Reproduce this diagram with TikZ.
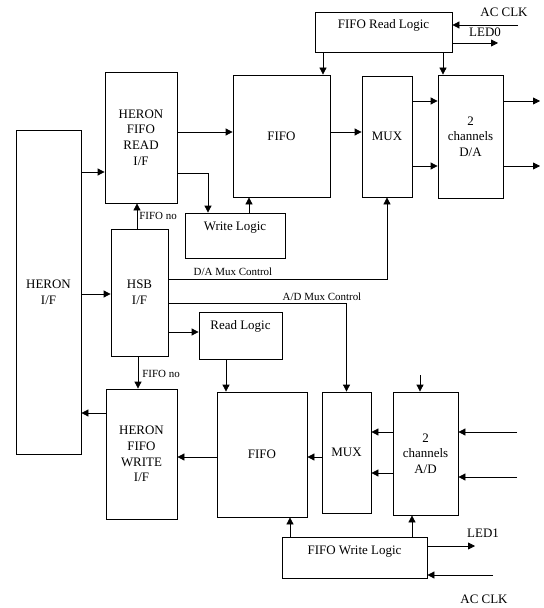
\documentclass[tikz,border=0pt]{standalone}
\usepackage{fontspec}
\setmainfont{Liberation Serif}
\usepackage{tikz}
\usetikzlibrary{arrows.meta}

\begin{document}
\begin{tikzpicture}[x=1bp, y=-1bp, line width=0.8bp,
  font=\fontsize{13}{15.7}\selectfont,
  blk/.style={draw, align=center, inner sep=0pt},
  logic/.style={draw, inner xsep=2bp, inner ysep=3bp, text height=14bp, text depth=#1},
  lbl/.style={font=\fontsize{11}{13}\selectfont, inner sep=0pt},
  arr/.style={-{Triangle[length=7bp,width=7bp]}}]
  \useasboundingbox (0,0) rectangle (544,608);

  % blocks
  \node[logic=20bp, minimum width=137bp] (frl) at (383.5,32) {FIFO Read Logic};
  \node[blk, minimum width=72bp, minimum height=131bp] (hfr) at (141,137.5) {HERON\\FIFO\\READ\\I/F};
  \node[blk, minimum width=97bp, minimum height=122bp] (fifoA) at (281.5,136) {FIFO};
  \node[blk, minimum width=50bp, minimum height=121bp] (muxA) at (387,136.5) {MUX};
  \node[blk, minimum width=65bp, minimum height=123bp] (da) at (470.5,136.5) {2\\channels\\D/A};
  \node[logic=25bp, minimum width=100bp] (wl) at (235,235.5) {Write Logic};
  \node[blk, minimum width=65bp, minimum height=324bp] (heron) at (48.5,292) {HERON\\I/F};
  \node[blk, minimum width=57bp, minimum height=127bp] (hsb) at (139.5,292.5) {HSB\\I/F};
  \node[logic=27bp, minimum width=83bp] (rl) at (240.5,335.5) {Read Logic};
  \node[blk, minimum width=71bp, minimum height=130bp] (hfw) at (141.5,454) {HERON\\FIFO\\WRITE\\I/F};
  \node[blk, minimum width=90bp, minimum height=125bp] (fifoB) at (262,454.5) {FIFO};
  \node[blk, minimum width=49bp, minimum height=121bp] (muxB) at (346.5,452.5) {MUX};
  \node[blk, minimum width=65bp, minimum height=123bp] (ad) at (425.5,453.5) {2\\channels\\A/D};
  \node[logic=21bp, minimum width=145bp] (fwl) at (354.5,557.5) {FIFO Write Logic};

  % read side
  \coordinate (clkA) at (518,25);
  \coordinate (led0) at (498,43);
  \draw[arr] (clkA) -- (clkA -| frl.east);
  \draw[arr] (frl.east |- led0) -- (led0);
  \node[inner sep=0pt] (clkAtxt) at (504,12) {AC CLK};
  \node[inner sep=0pt] (led0txt) at (485,32) {LED0};
  \draw[arr] (frl.south -| 323,0) -- (fifoA.north -| 323,0);
  \draw[arr] (frl.south -| 443,0) -- (da.north -| 443,0);
  \draw[arr] (heron.east |- 0,172) -- (hfr.west |- 0,172);
  \draw[arr] (hfr.east |- 0,132) -- (fifoA.west |- 0,132);
  \draw[arr] (hfr.east |- 0,173) -| (wl.north -| 208,0);
  \draw[arr] (wl.north -| 249,0) -- (fifoA.south -| 249,0);
  \draw[arr] (hsb.north -| 137,0) -- (hfr.south -| 137,0);
  \node[lbl, anchor=west] (fifoNoA) at (139,216) {FIFO no};
  \draw[arr] (fifoA.east |- 0,132) -- (muxA.west |- 0,132);
  \draw[arr] (muxA.east |- 0,101) -- (da.west |- 0,101);
  \draw[arr] (muxA.east |- 0,166) -- (da.west |- 0,166);
  \coordinate (daOutA) at (540,101);
  \coordinate (daOutB) at (540,166);
  \draw[arr] (da.east |- daOutA) -- (daOutA);
  \draw[arr] (da.east |- daOutB) -- (daOutB);

  % HSB control lines
  \draw[arr] (hsb.east |- 0,279) -| (muxA.south);
  \node[lbl] (daCtl) at (233,272) {D/A Mux Control};
  \draw[arr] (heron.east |- 0,294) -- (hsb.west |- 0,294);
  \draw[arr] (hsb.east |- 0,303) -| (muxB.north);
  \node[lbl] (adCtl) at (322,297) {A/D Mux Control};
  \draw[arr] (hsb.east |- 0,332) -- (rl.west |- 0,332);
  \draw[arr] (rl.south -| 226,0) -- (fifoB.north -| 226,0);
  \draw[arr] (hsb.south -| 138,0) -- (hfw.north -| 138,0);
  \node[lbl, anchor=west] (fifoNoB) at (142,374) {FIFO no};

  % write side
  \draw[arr] (hfw.west |- 0,413) -- (heron.east |- 0,413);
  \draw[arr] (fifoB.west |- 0,457) -- (hfw.east |- 0,457);
  \draw[arr] (muxB.west |- 0,457) -- (fifoB.east |- 0,457);
  \draw[arr] (ad.west |- 0,432) -- (muxB.east |- 0,432);
  \draw[arr] (ad.west |- 0,473) -- (muxB.east |- 0,473);
  \coordinate (adInA) at (517,432);
  \coordinate (adInB) at (517,477);
  \coordinate (adClk) at (420,375);
  \draw[arr] (adInA) -- (adInA -| ad.east);
  \draw[arr] (adInB) -- (adInB -| ad.east);
  \draw[arr] (adClk) -- (adClk |- ad.north);
  \draw[arr] (fwl.north -| 290,0) -- (fifoB.south -| 290,0);
  \draw[arr] (fwl.north -| 412,0) -- (ad.south -| 412,0);
  \coordinate (led1) at (475,546);
  \coordinate (clkB) at (493,575);
  \draw[arr] (fwl.east |- led1) -- (led1);
  \draw[arr] (clkB) -- (clkB -| fwl.east);
  \node[inner sep=0pt] (led1txt) at (483,533) {LED1};
  \node[inner sep=0pt] (clkBtxt) at (484,599) {AC CLK};
\end{tikzpicture}
\end{document}
